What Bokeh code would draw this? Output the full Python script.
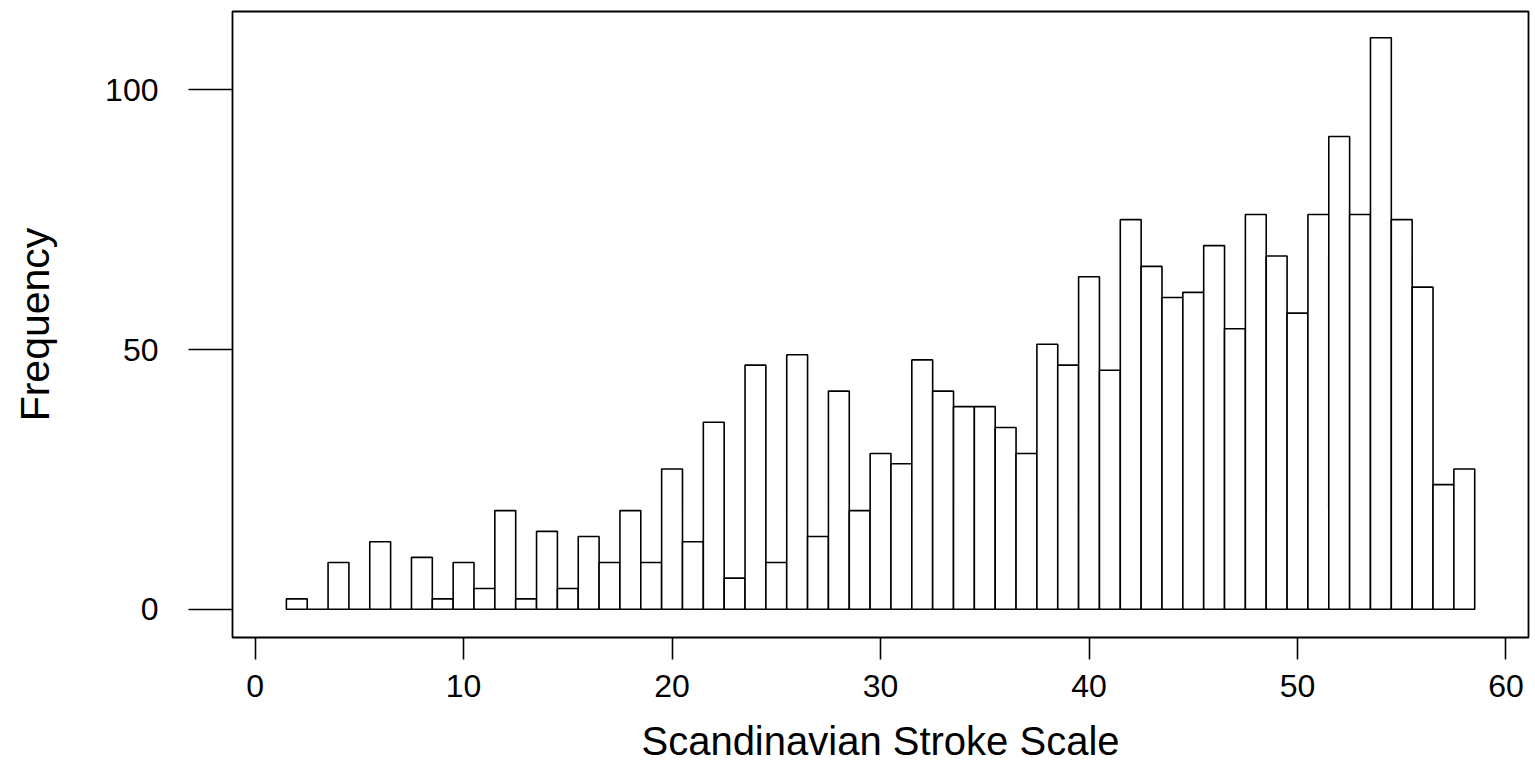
from bokeh.plotting import figure
from bokeh.models import Range1d, FixedTicker
from bokeh.embed import file_html
from bokeh.resources import INLINE

# ---- data ----
score_bins = [2, 3, 4, 5, 6, 7, 8, 9, 10, 11, 12, 13, 14, 15, 16, 17, 18, 19, 20,
              21, 22, 23, 24, 25, 26, 27, 28, 29, 30, 31, 32, 33, 34, 35, 36, 37, 38,
              39, 40, 41, 42, 43, 44, 45, 46, 47, 48, 49, 50, 51, 52, 53, 54, 55, 56,
              57, 58]
frequency = [2, 0, 9, 0, 13, 0, 10, 2, 9, 4, 19, 2, 15, 4, 14, 9, 19, 9, 27,
             13, 36, 6, 47, 9, 49, 14, 42, 19, 30, 28, 48, 42, 39, 39, 35, 30, 51,
             47, 64, 46, 75, 66, 60, 61, 70, 54, 76, 68, 57, 76, 91, 76, 110, 75, 62,
             24, 27]
x_ticks = [0, 10, 20, 30, 40, 50, 60]
y_ticks = [0, 50, 100]
x_title = "Scandinavian Stroke Scale"
y_title = "Frequency"

bin_width = 1.0
lefts = [b - bin_width / 2 for b in score_bins]
rights = [b + bin_width / 2 for b in score_bins]

FONT = "Liberation Sans"

p = figure(width=1530, height=767, output_backend="svg", toolbar_location=None,
           x_range=Range1d(-1.084, 61.08), y_range=Range1d(-5.43, 115.06),
           min_border_left=232, min_border_right=2, min_border_top=11,
           min_border_bottom=130)

p.quad(left=lefts, right=rights, bottom=0, top=frequency,
       fill_color="white", line_color="black", line_width=1.6)

p.xgrid.visible = False
p.ygrid.visible = False
p.background_fill_color = "white"
p.border_fill_color = "white"
p.outline_line_color = "black"
p.outline_line_width = 1.8

xa = p.xaxis[0]
xa.ticker = FixedTicker(ticks=x_ticks)
xa.axis_line_color = None
xa.major_tick_out = 22
xa.major_tick_in = 0
xa.major_tick_line_width = 1.6
xa.minor_tick_line_color = None
xa.major_label_standoff = 15
xa.major_label_text_font = FONT
xa.major_label_text_font_size = "32px"
xa.major_label_text_color = "black"
xa.axis_label = x_title
xa.axis_label_text_font = FONT
xa.axis_label_text_font_size = "40px"
xa.axis_label_text_font_style = "normal"
xa.axis_label_text_color = "black"
xa.axis_label_standoff = 19

ya = p.yaxis[0]
ya.ticker = FixedTicker(ticks=y_ticks)
ya.axis_line_color = None
ya.major_tick_out = 44
ya.major_tick_in = 0
ya.major_tick_line_width = 1.6
ya.minor_tick_line_color = None
ya.major_label_standoff = 30
ya.major_label_orientation = "horizontal"
ya.major_label_text_font = FONT
ya.major_label_text_font_size = "32px"
ya.major_label_text_color = "black"
ya.axis_label = y_title
ya.axis_label_text_font = FONT
ya.axis_label_text_font_size = "41px"
ya.axis_label_text_font_style = "normal"
ya.axis_label_text_color = "black"
ya.axis_label_standoff = 44

open("out.html", "w").write(file_html(p, INLINE))
